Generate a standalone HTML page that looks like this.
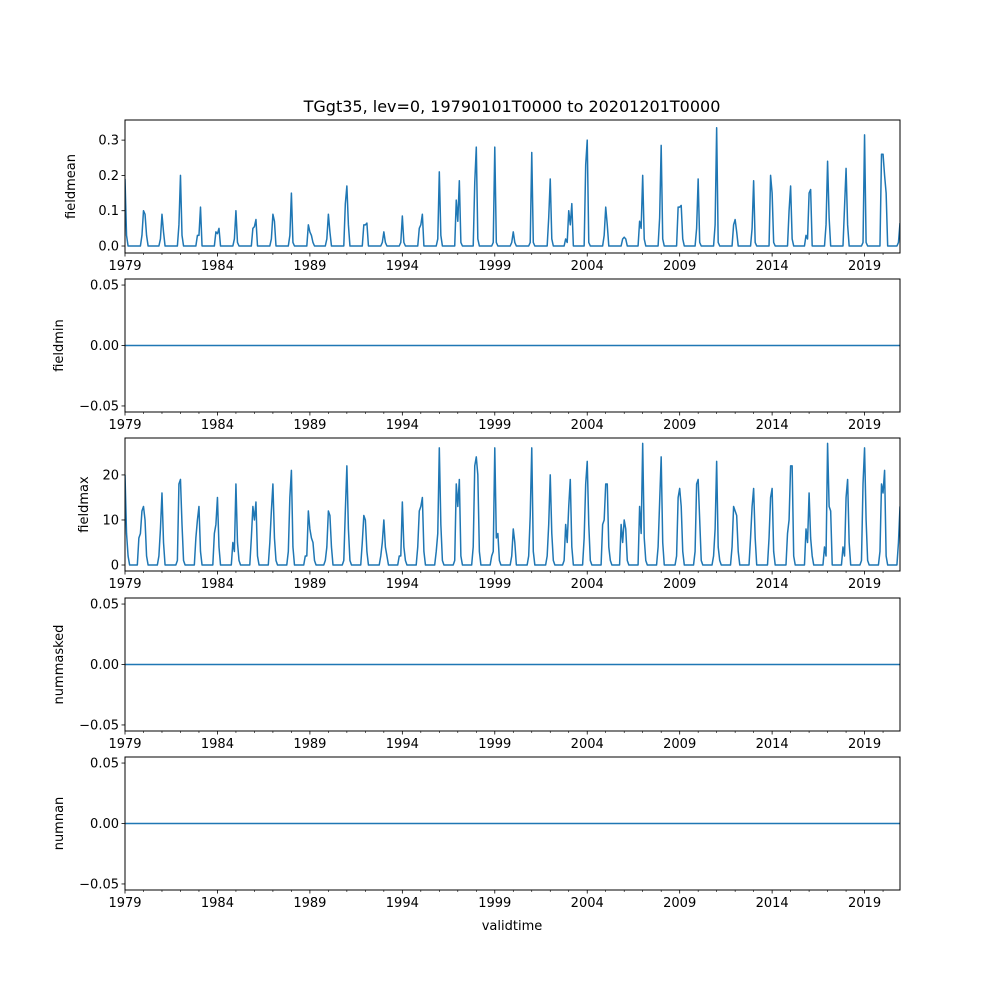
<!DOCTYPE html>
<html><head><meta charset="utf-8"><style>
body{margin:0;background:#fff}
svg text{font-family:"DejaVu Sans","Liberation Sans",sans-serif;fill:#000}
</style></head><body>
<svg id="fig" width="1000" height="1000" xmlns="http://www.w3.org/2000/svg"></svg>
<script>
// Monthly data Jan 1979 .. Dec 2020; each season: [Oct,Nov,Dec (prev yr), Jan, Feb, Mar, Apr] keyed on January year
const seasonYears = [1979,1980,1981,1982,1983,1984,1985,1986,1987,1988,1989,1990,1991,1992,1993,1994,1995,1996,1997,1998,1999,2000,2001,2002,2003,2004,2005,2006,2007,2008,2009,2010,2011,2012,2013,2014,2015,2016,2017,2018,2019,2020,2021];
const meanSeasons = [
[0,0,0,0.19,0.03,0,0],[0,0,0.03,0.1,0.09,0.03,0],[0,0,0.02,0.09,0.04,0,0],[0,0,0.06,0.2,0.03,0,0],
[0,0,0.03,0.03,0.11,0,0],[0,0,0.04,0.035,0.05,0,0],[0,0,0.02,0.1,0.01,0,0],[0,0,0.05,0.055,0.075,0,0],
[0,0,0.02,0.09,0.07,0,0],[0,0,0.03,0.15,0.01,0,0],[0,0,0.06,0.04,0.03,0.01,0],[0,0,0.02,0.09,0.04,0,0],
[0,0,0.12,0.17,0.06,0,0],[0,0,0.06,0.06,0.065,0,0],[0,0,0.01,0.04,0.01,0,0],[0,0,0.01,0.085,0.01,0,0],
[0,0,0.05,0.06,0.09,0,0],[0,0,0.02,0.21,0.03,0,0],[0,0,0.13,0.07,0.185,0.01,0],[0,0,0.18,0.28,0.02,0,0],
[0,0,0.01,0.28,0.01,0,0],[0,0,0.01,0.04,0.01,0,0],[0,0,0.01,0.265,0.01,0,0],[0,0,0.08,0.19,0.02,0,0],
[0,0.02,0.01,0.1,0.06,0.12,0],[0,0,0.23,0.3,0.01,0,0],[0,0,0.03,0.11,0.06,0,0],[0,0,0.02,0.025,0.02,0,0],
[0,0.07,0.05,0.2,0.02,0,0],[0,0,0.08,0.285,0.02,0,0],[0,0,0.11,0.11,0.115,0.02,0],[0,0,0.05,0.19,0.01,0,0],
[0,0,0.06,0.335,0.01,0,0],[0,0,0.06,0.075,0.04,0,0],[0,0,0.05,0.185,0.01,0,0],[0,0,0.2,0.15,0.01,0,0],
[0,0,0.1,0.17,0.02,0,0],[0,0.03,0.02,0.15,0.16,0,0],[0,0,0.06,0.24,0.08,0,0],[0,0,0.11,0.22,0.06,0,0],
[0,0,0.01,0.315,0.01,0,0],[0,0,0.26,0.26,0.2,0.15,0],[0,0.01,0.065,0,0,0,0]];
const maxSeasons = [
[0,0,0,20,7,2,0],[6,7,12,13,10,2,0],[0,2,8,16,5,0,0],[0,1,18,19,9,1,0],
[0,6,10,13,3,0,0],[0,7,9,15,4,0,0],[0,5,3,18,5,1,0],[0,6,13,10,14,2,0],
[0,5,12,18,6,1,0],[0,3,15,21,4,0,0],[2,2,12,8,6,5,1],[0,1,4,12,11,4,0],
[0,1,12,22,8,1,0],[0,5,11,10,3,0,0],[0,2,5,10,4,2,0],[0,2,2,14,4,1,0],
[0,4,12,13,15,3,0],[0,3,7,26,9,1,0],[0,1,18,13,19,2,0],[0,4,22,24,20,3,0],
[0,2,3,26,6,7,1],[0,0,2,8,5,0,0],[0,2,11,26,3,0,0],[0,2,9,20,7,1,0],
[1,9,5,13,19,4,0],[0,6,18,23,9,1,0],[0,9,10,18,18,4,1],[0,9,5,10,8,1,0],
[0,13,7,27,6,1,0],[0,4,14,24,5,0,0],[0,2,15,17,13,3,0],[0,3,18,19,10,1,0],
[0,2,8,23,4,1,0],[0,4,13,12,11,3,0],[0,6,13,17,6,0,0],[0,6,15,17,3,0,0],
[0,7,10,22,22,2,0],[0,8,5,16,6,2,0],[0,4,2,27,13,12,0],[0,4,2,15,19,5,0],
[0,1,18,26,10,1,0],[0,3,18,16,21,2,0],[0,5,13,0,0,0,0]];
const xTickLabels = ['1979','1984','1989','1994','1999','2004','2009','2014','2019'];
const meanTicks = [0.0,0.1,0.2,0.3], meanTickLabels=['0.0','0.1','0.2','0.3'];
const maxTicks = [0,10,20], maxTickLabels=['0','10','20'];
const flatTicks = [-0.05,0,0.05], flatTickLabels=['−0.05','0.00','0.05'];

const NM = 504;
function build(seasons){
  const m = new Array(NM).fill(0);
  seasonYears.forEach((y,i)=>{
    seasons[i].forEach((v,k)=>{
      const idx=(y-1979)*12 + (k-3);
      if(idx>=0 && idx<NM) m[idx]=v;
    });
  });
  return m;
}
const meanData = build(meanSeasons), maxData = build(maxSeasons), zeroData = new Array(NM).fill(0);

const svg=document.getElementById('fig'), NS='http://www.w3.org/2000/svg';
function el(t,a,p){const e=document.createElementNS(NS,t);for(const k in a)e.setAttribute(k,a[k]);(p||svg).appendChild(e);return e;}
const X0=125,X1=900, TMAX=41+11/12;
const xs = t => X0 + t/TMAX*(X1-X0);

const t=el('text',{x:512,y:112,'text-anchor':'middle','font-size':16});


t.textContent='TGgt35, lev=0, 19790101T0000 to 20201201T0000';

const panels=[
 {name:'fieldmean',top:120,bot:253,lo:-0.0198,hi:0.357,data:meanData,ticks:meanTicks,labels:meanTickLabels,ly:75},
 {name:'fieldmin',top:279,bot:412,lo:-0.055,hi:0.055,data:zeroData,ticks:flatTicks,labels:flatTickLabels,ly:63},
 {name:'fieldmax',top:438,bot:571,lo:-1.33,hi:28.2,data:maxData,ticks:maxTicks,labels:maxTickLabels,ly:88},
 {name:'nummasked',top:598,bot:731,lo:-0.055,hi:0.055,data:zeroData,ticks:flatTicks,labels:flatTickLabels,ly:63},
 {name:'numnan',top:757,bot:890,lo:-0.055,hi:0.055,data:zeroData,ticks:flatTicks,labels:flatTickLabels,ly:63}];
panels.forEach(p=>{
  const g=el('g',{});
  
  
  const ys=v=>p.bot-(v-p.lo)/(p.hi-p.lo)*(p.bot-p.top);
  let d='';
  p.data.forEach((v,i)=>{d+=(i?'L':'M')+xs(i/12).toFixed(2)+','+ys(v).toFixed(2);});
  const cp=el('clipPath',{id:'c'+p.name},g);el('rect',{x:X0,y:p.top,width:X1-X0,height:p.bot-p.top},cp);
  const line=el('path',{d:d,fill:'none',stroke:'#1f77b4','stroke-width':1.5,'stroke-linejoin':'round','clip-path':'url(#c'+p.name+')'},g);
  
  
  const fr=el('rect',{x:X0,y:p.top,width:X1-X0,height:p.bot-p.top,fill:'none',stroke:'#000','stroke-width':1},g);
  
  
  for(let yr=0;yr<=41;yr++){
    const x=xs(yr), major=yr%5===0;
    el('line',{x1:x,x2:x,y1:p.bot,y2:p.bot+(major?3.5:2),stroke:'#000','stroke-width':major?0.8:0.6},g);
  }
  xTickLabels.forEach((lab,i)=>{
    const tx=el('text',{x:xs(i*5),y:p.bot+17,'text-anchor':'middle','font-size':13},g);
    
    
    tx.textContent=lab;
  });
  p.ticks.forEach((v,i)=>{
    const y=ys(v);
    el('line',{x1:X0-3.5,x2:X0,y1:y,y2:y,stroke:'#000','stroke-width':0.8},g);
    const ty=el('text',{x:X0-6,y:y+4.5,'text-anchor':'end','font-size':13},g);
    
    
    ty.textContent=p.labels[i];
  });
  const cy=(p.top+p.bot)/2;
  const yl=el('text',{x:p.ly,y:cy,'text-anchor':'middle','font-size':13,transform:'rotate(-90 '+p.ly+' '+cy+')'},g);
  
  
  yl.textContent=p.name;
});
const xl=el('text',{x:512,y:930,'text-anchor':'middle','font-size':13});


xl.textContent='validtime';
</script>
</body></html>
